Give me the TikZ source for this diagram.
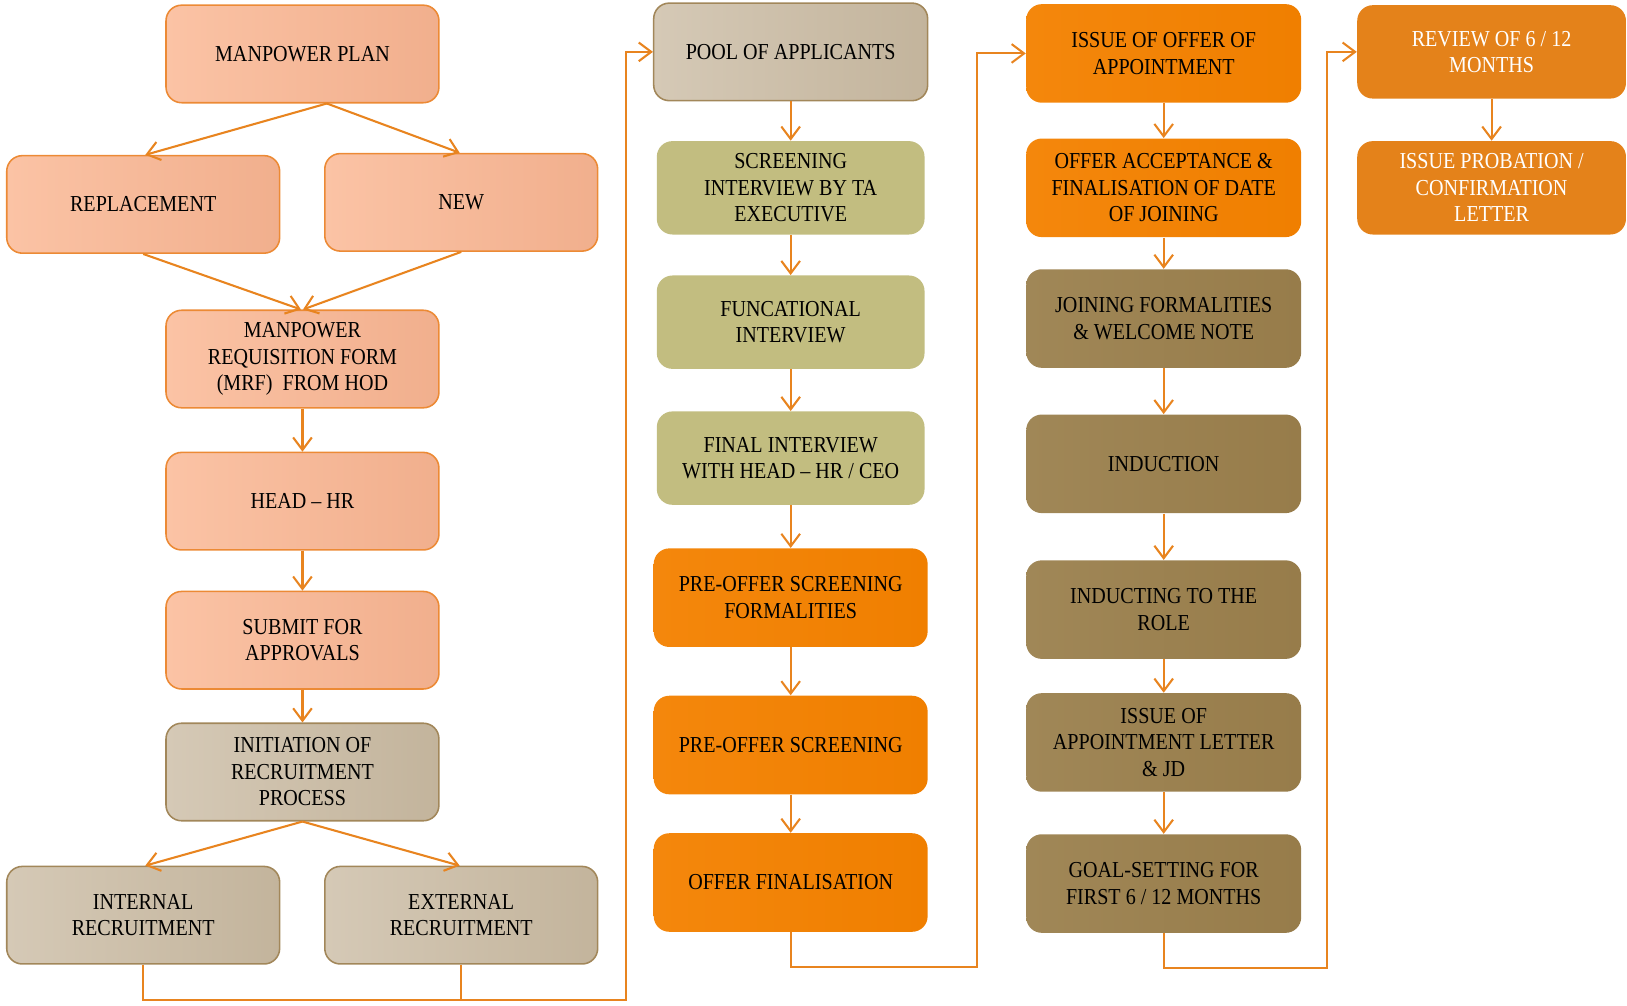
\documentclass[tikz,border=0pt]{standalone}
\usepackage{fontspec}
\setmainfont{Liberation Serif}[FakeStretch=0.88]
\usetikzlibrary{arrows.meta}
\definecolor{salL}{HTML}{FBC3A5}
\definecolor{salR}{HTML}{F1AF8D}
\definecolor{salD}{HTML}{EC8A35}
\definecolor{tanL}{HTML}{D5C9B6}
\definecolor{tanR}{HTML}{C3B49C}
\definecolor{tanD}{HTML}{A2875A}
\definecolor{oliveF}{HTML}{C2BD80}
\definecolor{orgL}{HTML}{F4870C}
\definecolor{orgR}{HTML}{F07F00}
\definecolor{brnL}{HTML}{A08757}
\definecolor{brnR}{HTML}{977C4A}
\definecolor{col4}{HTML}{E4821A}
\definecolor{lineC}{HTML}{E8841F}
\tikzset{
  box/.style={rounded corners=7.5pt, align=center, inner sep=0pt,
    font=\fontsize{11}{12.75}\selectfont, text=black},
  salbox/.style={box, left color=salL, right color=salR, draw=salD, line width=0.75pt,
    minimum width=131.5pt, minimum height=47pt},
  tanbox/.style={box, left color=tanL, right color=tanR, draw=tanD, line width=0.75pt,
    minimum width=131.5pt, minimum height=47pt},
  olivebox/.style={box, fill=oliveF, minimum width=129pt, minimum height=45pt},
  orgbox/.style={box, left color=orgL, right color=orgR, minimum width=132pt, minimum height=47.5pt},
  brnbox/.style={box, left color=brnL, right color=brnR, minimum width=132.5pt, minimum height=47.5pt},
  c4box/.style={box, fill=col4, text=white, minimum width=129.5pt, minimum height=45pt},
  conn/.style={draw=lineC, line width=1pt},
  arr/.style={conn, -{Straight Barb[length=6pt,width=9pt]}},
}
\begin{document}
\begin{tikzpicture}[x=0.5pt,y=-0.5pt]
\useasboundingbox (0,0) rectangle (1568,969);
% column 1
\node[salbox] (mp) at (291.5,52) {MANPOWER PLAN};
\node[salbox] (rep) at (138,197) {REPLACEMENT};
\node[salbox] (new) at (444.5,195) {NEW};
\node[salbox] (mrf) at (291.5,346) {MANPOWER\\REQUISITION FORM\\(MRF)\ \ FROM HOD};
\node[salbox] (hhr) at (291.5,483) {HEAD – HR};
\node[salbox] (sub) at (291.5,617) {SUBMIT FOR\\APPROVALS};
\node[tanbox] (init) at (291.5,744) {INITIATION OF\\RECRUITMENT\\PROCESS};
\node[tanbox] (int) at (138,882) {INTERNAL\\RECRUITMENT};
\node[tanbox] (ext) at (444.5,882) {EXTERNAL\\RECRUITMENT};
% column 2
\node[tanbox, minimum width=132pt] (pool) at (762,50) {POOL OF APPLICANTS};
\node[olivebox] (scr) at (762,181) {SCREENING\\INTERVIEW BY TA\\EXECUTIVE};
\node[olivebox] (fun) at (762,310.5) {FUNCATIONAL\\INTERVIEW};
\node[olivebox] (fin) at (762,441.5) {FINAL INTERVIEW\\WITH HEAD – HR / CEO};
\node[orgbox] (pof) at (762,576) {PRE-OFFER SCREENING\\FORMALITIES};
\node[orgbox] (pos) at (762,718) {PRE-OFFER SCREENING};
\node[orgbox] (ofin) at (762,850.5) {OFFER FINALISATION};
% column 3
\node[orgbox, minimum width=132.5pt] (ioff) at (1121.5,51.5) {ISSUE OF OFFER OF\\APPOINTMENT};
\node[orgbox, minimum width=132.5pt] (oacc) at (1121.5,181) {OFFER ACCEPTANCE \&\\FINALISATION OF DATE\\OF JOINING};
\node[brnbox] (join) at (1121.5,307) {JOINING FORMALITIES\\\& WELCOME NOTE};
\node[brnbox] (ind) at (1121.5,447) {INDUCTION};
\node[brnbox] (role) at (1121.5,587.5) {INDUCTING TO THE\\ROLE};
\node[brnbox] (iapp) at (1121.5,715.5) {ISSUE OF\\APPOINTMENT LETTER\\\& JD};
\node[brnbox] (goal) at (1121.5,851.5) {GOAL-SETTING FOR\\FIRST 6 / 12 MONTHS};
% column 4
\node[c4box] (rev) at (1437.5,50) {REVIEW OF 6 / 12\\MONTHS};
\node[c4box] (prob) at (1437.5,181) {ISSUE PROBATION /\\CONFIRMATION\\LETTER};
% junction points
\coordinate (j1) at (603,964);
\coordinate (j2) at (942,932);
\coordinate (j3) at (1279,933);
% connectors column 1
\draw[arr] ([xshift=11.75pt]mp.south) -- ([xshift=1pt]rep.north);
\draw[arr] ([xshift=11.75pt]mp.south) -- ([xshift=-0.75pt]new.north);
\draw[arr] (rep.south) -- ([xshift=-0.75pt]mrf.north);
\draw[arr] (new.south) -- ([xshift=0.25pt]mrf.north);
\draw[arr] (mrf) -- (hhr);
\draw[arr] (hhr) -- (sub);
\draw[arr] (sub) -- (init);
\draw[arr] (init.south) -- ([xshift=1pt]int.north);
\draw[arr] (init.south) -- ([xshift=-0.75pt]ext.north);
\draw[conn] (int.south) |- (ext.south |- j1);
\draw[arr] (ext.south) |- (j1) |- (pool.west);
% column 2
\draw[arr] (pool) -- (scr);
\draw[arr] (scr) -- (fun);
\draw[arr] (fun) -- (fin);
\draw[arr] (fin) -- (pof);
\draw[arr] (pof) -- (pos);
\draw[arr] (pos) -- (ofin);
\draw[arr] (ofin.south) |- (j2) |- (ioff.west);
% column 3
\draw[arr] (ioff) -- (oacc);
\draw[arr] (oacc) -- (join);
\draw[arr] (join) -- (ind);
\draw[arr] (ind) -- (role);
\draw[arr] (role) -- (iapp);
\draw[arr] (iapp) -- (goal);
\draw[arr] (goal.south) |- (j3) |- (rev.west);
% column 4
\draw[arr] (rev) -- (prob);
\end{tikzpicture}
\end{document}
